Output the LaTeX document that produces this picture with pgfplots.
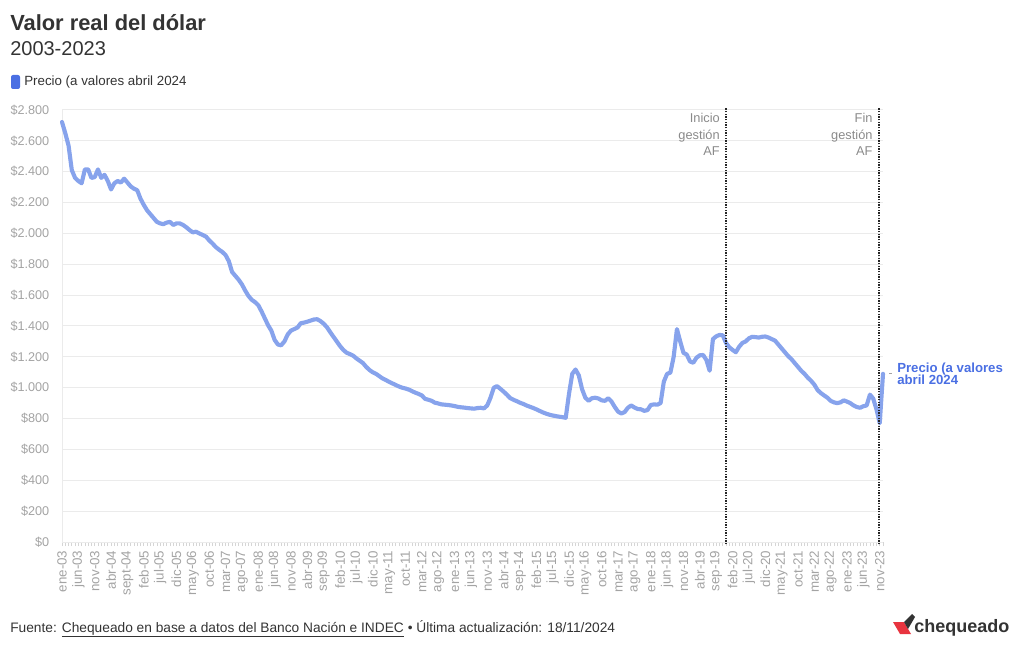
\documentclass[border=0pt]{standalone}
\usepackage{pgfplots}
\pgfplotsset{compat=1.18}
\usepackage{pgfplotstable}
\usepackage{fontspec}
\setmainfont{Liberation Sans}
\definecolor{linec}{HTML}{87A3EC}
\definecolor{labc}{HTML}{4A6FE3}
\definecolor{tickc}{HTML}{A3A3A3}
\definecolor{annc}{HTML}{8A8A8A}
\definecolor{gridc}{HTML}{EBEBEB}
\definecolor{txt}{HTML}{333333}
\definecolor{logored}{HTML}{E8343F}
\pgfplotstableread{
x y
0 2722
1 2650
2 2570
3 2410
4 2360
5 2340
6 2325
7 2415
8 2415
9 2360
10 2365
11 2415
12 2360
13 2380
14 2340
15 2285
16 2325
17 2340
18 2330
19 2355
20 2330
21 2305
22 2290
23 2280
24 2225
25 2185
26 2150
27 2125
28 2100
29 2075
30 2065
31 2060
32 2070
33 2075
34 2055
35 2065
36 2065
37 2055
38 2040
39 2022
40 2007
41 2011
42 2000
43 1990
44 1980
45 1955
46 1935
47 1912
48 1895
49 1880
50 1860
51 1820
52 1750
53 1725
54 1700
55 1670
56 1630
57 1595
58 1570
59 1555
60 1535
61 1495
62 1450
63 1405
64 1370
65 1310
66 1280
67 1275
68 1300
69 1345
70 1370
71 1380
72 1390
73 1418
74 1422
75 1428
76 1435
77 1442
78 1444
79 1432
80 1415
81 1392
82 1360
83 1330
84 1300
85 1270
86 1245
87 1227
88 1218
89 1208
90 1190
91 1175
92 1160
93 1135
94 1115
95 1100
96 1090
97 1075
98 1060
99 1050
100 1038
101 1028
102 1018
103 1008
104 1000
105 995
106 988
107 978
108 968
109 960
110 950
111 928
112 922
113 915
114 903
115 898
116 892
117 890
118 888
119 885
120 881
121 876
122 873
123 871
124 868
125 866
126 864
127 868
128 870
129 866
130 885
131 935
132 1000
133 1010
134 993
135 975
136 955
137 933
138 922
139 913
140 903
141 895
142 885
143 877
144 869
145 860
146 850
147 840
148 832
149 825
150 820
151 816
152 812
153 809
154 805
155 960
156 1090
157 1118
158 1080
159 990
160 935
161 915
162 932
163 935
164 930
165 918
166 915
167 932
168 910
169 875
170 845
171 833
172 842
173 870
174 885
175 872
176 862
177 860
178 850
179 855
180 888
181 892
182 890
183 900
184 1040
185 1090
186 1098
187 1200
188 1380
189 1300
190 1226
191 1215
192 1170
193 1162
194 1195
195 1210
196 1212
197 1180
198 1110
199 1315
200 1333
201 1342
202 1340
203 1290
204 1262
205 1245
206 1230
207 1265
208 1290
209 1300
210 1320
211 1330
212 1328
213 1325
214 1330
215 1332
216 1325
217 1315
218 1305
219 1280
220 1255
221 1230
222 1205
223 1185
224 1160
225 1135
226 1110
227 1090
228 1065
229 1045
230 1020
231 985
232 965
233 950
234 935
235 915
236 905
237 900
238 905
239 918
240 910
241 900
242 885
243 875
244 870
245 880
246 885
247 955
248 930
249 860
250 770
251 1090
}\dolar
\begin{document}
\begin{tikzpicture}[x=0.75pt,y=0.75pt]
\useasboundingbox (0,0) rectangle (1020,650);
% titles
\node[anchor=base west, inner sep=0, text=txt, font=\fontsize{16.4}{19}\selectfont\bfseries] at (10,619) {Valor real del dólar};
\node[anchor=base west, inner sep=0, text=txt, font=\fontsize{15}{18}\selectfont] at (10,594) {2003-2023};
% legend
\fill[labc, rounded corners=1.5pt] (11,561) rectangle (20,575);
\node[anchor=west, inner sep=0, text=txt, font=\fontsize{10}{12}\selectfont] at (24,568) {Precio (a valores abril 2024};
% footer
\node[anchor=base west, inner sep=0, text=txt, font=\fontsize{10.3}{12}\selectfont] at (10,18) {Fuente: \underline{Chequeado en base a datos del Banco Nación e INDEC} • Última actualización: 18/11/2024};
% logo
\fill[logored] (893,28) -- (904,28) -- (911,16) -- (900,16) -- cycle;
\fill[txt] (904,28) -- (912,36) -- (915,33) -- (908,21) -- cycle;
\node[anchor=base west, inner sep=0, text=txt, font=\fontsize{13.5}{16}\selectfont\bfseries] at (914,18) {chequeado};
\begin{axis}[
  at={(46.5pt,81pt)}, anchor=south west, scale only axis,
  width=615.75pt, height=324pt,
  xmin=0, xmax=251, ymin=0, ymax=2800,
  clip=false,
  axis x line*=bottom, axis y line*=left,
  axis line style={draw=gridc, -},
  ymajorgrids, grid style={gridc, line width=0.75pt},
  ytick={0,200,...,2800},
  yticklabels={\$0,\$200,\$400,\$600,\$800,\$1.000,\$1.200,\$1.400,\$1.600,\$1.800,\$2.000,\$2.200,\$2.400,\$2.600,\$2.800},
  ytick style={draw=none},
  yticklabel style={font=\fontsize{9.5}{11}\selectfont, text=tickc, xshift=-3pt},
  xtick={0,5,...,250},
  minor xtick={0,1,...,251},
  xticklabels={ene-03,jun-03,nov-03,abr-04,sept-04,feb-05,jul-05,dic-05,may-06,oct-06,mar-07,ago-07,ene-08,jun-08,nov-08,abr-09,sep-09,feb-10,jul-10,dic-10,may-11,oct-11,mar-12,ago-12,ene-13,jun-13,nov-13,abr-14,sep-14,feb-15,jul-15,dic-15,may-16,oct-16,mar-17,ago-17,ene-18,jun-18,nov-18,abr-19,sep-19,feb-20,jul-20,dic-20,may-21,oct-21,mar-22,ago-22,ene-23,jun-23,nov-23},
  tick align=outside,
  major tick length=3pt, minor tick length=3pt,
  xtick style={draw=gridc!80!gray, line width=0.5pt},
  minor tick style={draw=gridc!80!gray, line width=0.5pt},
  xticklabel style={rotate=90, anchor=east, font=\fontsize{10}{11}\selectfont, text=tickc},
]
\addplot[linec, line width=3.1pt, line join=round, line cap=round] table[x=x, y=y] {\dolar};
\draw[black!85, line width=1.5pt, dash pattern=on 0.9pt off 1.1pt] (axis cs:203,-15) -- (axis cs:203,2815);
\draw[black!85, line width=1.5pt, dash pattern=on 0.9pt off 1.1pt] (axis cs:249.7,-15) -- (axis cs:249.7,2815);
\node[anchor=north east, align=right, inner sep=0, text=annc, font=\fontsize{9.6}{12.2}\selectfont, xshift=-4.5pt, yshift=-2.5pt] at (axis cs:203,2800) {Inicio\\gestión\\AF};
\node[anchor=north east, align=right, inner sep=0, text=annc, font=\fontsize{9.6}{12.2}\selectfont, xshift=-4.5pt, yshift=-2.5pt] at (axis cs:249.7,2800) {Fin\\gestión\\AF};
\draw[tickc, line width=0.6pt] ([xshift=4.5pt]axis cs:251,1090) -- ([xshift=6.5pt]axis cs:251,1090);
\node[anchor=west, align=left, inner sep=0, text=labc, font=\fontsize{9.9}{9.6}\selectfont\bfseries, xshift=10.5pt] at (axis cs:251,1090) {Precio (a valores\\abril 2024};
\end{axis}
\end{tikzpicture}
\end{document}
